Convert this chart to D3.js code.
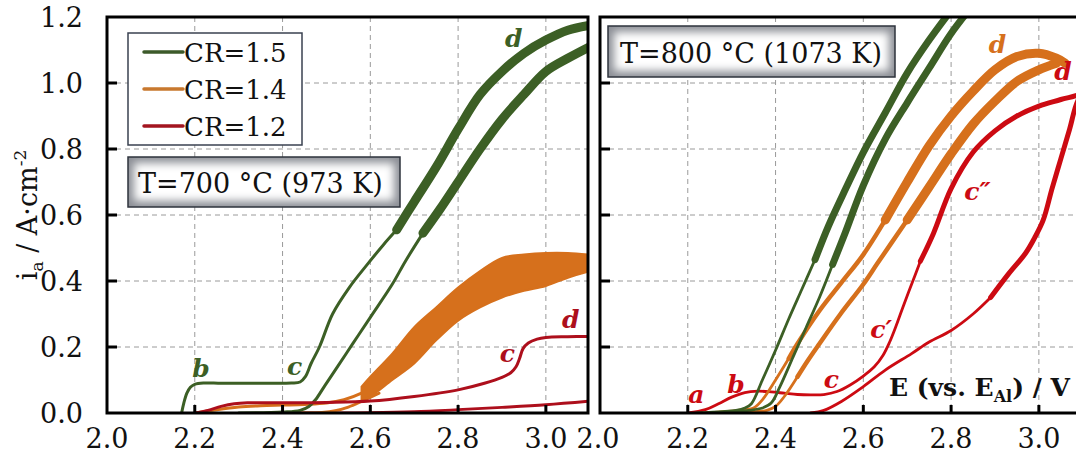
<!DOCTYPE html>
<html><head><meta charset="utf-8">
<script src="https://cdn.jsdelivr.net/npm/d3@7"></script>
<style>body{margin:0;background:#fff;} svg{display:block;}</style>
</head><body><svg id="c" width="1076" height="454"></svg>
<script>
// ================= DATA =================
const xTicks = [2.0, 2.2, 2.4, 2.6, 2.8, 3.0];
const yTicks = [0.0, 0.2, 0.4, 0.6, 0.8, 1.0, 1.2];
const legendLabels = ["CR=1.5", "CR=1.4", "CR=1.2"];
const panelTitles = ["T=700 °C (973 K)", "T=800 °C (1073 K)"];

// ---- T = 700 °C ----
const g700_fwdE  = [2.170,2.175,2.182,2.190,2.200,2.220,2.260,2.320,2.380,2.420,2.440,2.452,2.465,2.484,2.514,2.552,2.590,2.630,2.660];
const g700_fwdI  = [0.000,0.030,0.060,0.078,0.087,0.091,0.090,0.090,0.090,0.091,0.094,0.110,0.150,0.200,0.300,0.380,0.445,0.510,0.555];
const g700_fwdNE = [2.660,2.700,2.750,2.800,2.850,2.900,2.950,3.000,3.050,3.100];
const g700_fwdNI = [0.555,0.640,0.745,0.860,0.965,1.035,1.090,1.130,1.160,1.175];
const g700_revNE = [3.100,3.050,3.000,2.950,2.900,2.850,2.800,2.760,2.720];
const g700_revNI = [1.110,1.075,1.035,0.965,0.890,0.800,0.700,0.620,0.545];
const g700_revE  = [2.720,2.680,2.650,2.600,2.560,2.520,2.495,2.475,2.460,2.440,2.400,2.300];
const g700_revI  = [0.545,0.460,0.390,0.290,0.210,0.130,0.080,0.040,0.020,0.008,0.003,0.000];
const o700_fwdE  = [2.200,2.250,2.300,2.350,2.400,2.450,2.500,2.540,2.580,2.620];
const o700_fwdI  = [0.000,0.010,0.018,0.022,0.024,0.026,0.030,0.040,0.060,0.090];
const o700_revE  = [2.620,2.580,2.550,2.520,2.490,2.450,2.400];
const o700_revI  = [0.060,0.035,0.018,0.007,0.002,0.000,0.000];
const o700_bandE  = [2.580,2.600,2.650,2.700,2.750,2.800,2.850,2.900,2.950,3.000,3.050,3.100];
const o700_bandLo = [0.040,0.050,0.100,0.150,0.220,0.280,0.320,0.350,0.370,0.385,0.410,0.430];
const o700_bandHi = [0.080,0.110,0.180,0.260,0.320,0.380,0.430,0.470,0.480,0.485,0.485,0.480];
const r700_fwdE = [2.200,2.230,2.260,2.290,2.320,2.400,2.500,2.600,2.700,2.800,2.860,2.900,2.920,2.932,2.940,2.948,2.960,2.980,3.000,3.050,3.100];
const r700_fwdI = [0.000,0.008,0.020,0.028,0.031,0.031,0.032,0.036,0.050,0.070,0.090,0.108,0.122,0.140,0.165,0.195,0.212,0.224,0.229,0.231,0.232];
const r700_revE = [3.100,3.000,2.900,2.800,2.700,2.600,2.500,2.420];
const r700_revI = [0.036,0.025,0.017,0.010,0.004,0.001,0.000,0.000];

// ---- T = 800 °C ----
const g800_aE  = [2.220,2.280,2.310,2.330,2.345,2.370,2.400,2.430,2.460,2.490];
const g800_aI  = [0.000,0.004,0.008,0.015,0.028,0.100,0.190,0.285,0.375,0.465];
const g800_aNE = [2.490,2.520,2.560,2.600,2.650,2.700,2.750,2.800];
const g800_aNI = [0.465,0.565,0.680,0.790,0.910,1.030,1.130,1.220];
const g800_bNE = [2.840,2.800,2.750,2.700,2.650,2.600,2.557,2.530];
const g800_bNI = [1.220,1.150,1.045,0.940,0.830,0.690,0.540,0.450];
const g800_bE  = [2.530,2.500,2.470,2.440,2.410,2.390,2.370,2.340,2.300,2.250];
const g800_bI  = [0.450,0.350,0.260,0.170,0.080,0.030,0.015,0.008,0.004,0.000];
const o800_aE  = [2.240,2.300,2.330,2.350,2.370,2.400,2.430];
const o800_aI  = [0.000,0.006,0.010,0.015,0.040,0.100,0.165];
const o800_aME = [2.430,2.450,2.500,2.550,2.600,2.650];
const o800_aMI = [0.165,0.210,0.310,0.395,0.480,0.585];
const o800_aNE = [2.650,2.700,2.750,2.800,2.850,2.900,2.950,3.000,3.040,3.060];
const o800_aNI = [0.585,0.700,0.810,0.900,0.975,1.040,1.080,1.090,1.075,1.060];
const o800_bNE = [3.040,3.000,2.950,2.900,2.850,2.800,2.750,2.700];
const o800_bNI = [1.060,1.040,1.005,0.945,0.875,0.785,0.685,0.585];
const o800_bME = [2.700,2.633,2.600,2.548,2.500,2.474,2.450];
const o800_bMI = [0.585,0.455,0.390,0.300,0.210,0.160,0.110];
const o800_bE  = [2.450,2.420,2.400,2.380,2.350,2.300];
const o800_bI  = [0.110,0.050,0.020,0.008,0.004,0.000];
const r800_fwdE  = [2.200,2.240,2.270,2.300,2.330,2.360,2.390,2.420,2.450,2.480,2.510,2.540,2.570,2.600,2.625,2.645,2.660,2.675,2.690,2.710,2.730];
const r800_fwdI  = [0.000,0.010,0.028,0.048,0.062,0.066,0.064,0.060,0.056,0.055,0.056,0.065,0.085,0.112,0.140,0.175,0.215,0.265,0.320,0.390,0.460];
const r800_fwdNE = [2.730,2.760,2.800,2.850,2.900,2.950,3.000,3.050,3.100,3.120];
const r800_fwdNI = [0.460,0.545,0.680,0.790,0.855,0.900,0.930,0.950,0.970,1.000];
const r800_revNE = [3.120,3.090,3.070,3.050,3.030,3.010,2.990,2.970,2.930,2.890];
const r800_revNI = [1.000,0.950,0.860,0.770,0.680,0.585,0.530,0.485,0.420,0.350];
const r800_revE  = [2.890,2.850,2.800,2.750,2.710,2.650,2.600,2.550,2.510,2.480];
const r800_revI  = [0.350,0.300,0.250,0.215,0.180,0.130,0.080,0.035,0.008,0.000];

const ann700Text = ["b","c","d","c","d"];
const ann700E    = [2.194,2.410,2.907,2.895,3.037];
const ann700I    = [0.109,0.115,1.110,0.155,0.258];
const ann700Ser  = [0,0,0,2,2];
const ann800Text = ["a","b","c","c′","c″","d","d"];
const ann800E    = [2.201,2.290,2.510,2.616,2.830,2.886,3.035];
const ann800I    = [0.030,0.060,0.076,0.227,0.645,1.090,1.010];
const ann800Ser  = [2,2,2,2,2,1,2];

// ================= DRAW =================
const svg = d3.select("#c");
const defs = svg.append("defs");
const SERIF = "'DejaVu Serif', 'Liberation Serif', serif";
const green = "#3c5f25", orange = "#d6701c", red700 = "#ad0f1c", red800 = "#cc0a12";
const legendColors = ["#3c5a2a", "#c8782e", "#a3151f"];

const yTop = 17, yBot = 413;
const y = d3.scaleLinear().domain([0, 1.2]).range([yBot, yTop]);
const panels = [
  {x: d3.scaleLinear().domain([2.0, 3.096]).range([107, 588]), id: "p700", red: red700},
  {x: d3.scaleLinear().domain([2.0, 3.096]).range([600, 1081]), id: "p800", red: red800}
];

const gridG = svg.append("g");
panels.forEach(p => {
  const [x0, x1] = p.x.range();
  defs.append("clipPath").attr("id", p.id).append("rect")
    .attr("x", x0).attr("y", yTop).attr("width", x1 - x0).attr("height", yBot - yTop);
  xTicks.filter(t => t > 2.0).forEach(t => {
    gridG.append("line").attr("x1", p.x(t)).attr("x2", p.x(t)).attr("y1", yTop).attr("y2", yBot)
      .attr("stroke", "#9a9a9a").attr("stroke-width", 1).attr("stroke-dasharray", "5,4");
  });
  yTicks.filter(t => t > 0 && t < 1.2).forEach(t => {
    gridG.append("line").attr("x1", x0).attr("x2", x1).attr("y1", y(t)).attr("y2", y(t))
      .attr("stroke", "#9a9a9a").attr("stroke-width", 1).attr("stroke-dasharray", "5,4");
  });
});

function zip(E, I) { return E.map((e, k) => [e, I[k]]); }
function drawLine(p, E, I, color, w) {
  const line = d3.line().x(d => p.x(d[0])).y(d => y(d[1])).curve(d3.curveCatmullRom.alpha(0.5));
  p.g.append("path").attr("d", line(zip(E, I))).attr("fill", "none")
    .attr("stroke", color).attr("stroke-width", w).attr("stroke-linejoin", "round").attr("stroke-linecap", "round");
}
panels.forEach(p => { p.g = svg.append("g").attr("clip-path", `url(#${p.id})`); });

const P1 = panels[0];
drawLine(P1, r700_revE, r700_revI, red700, 2.8);
drawLine(P1, o700_revE, o700_revI, orange, 2.8);
drawLine(P1, o700_fwdE, o700_fwdI, orange, 3);
const band = d3.area().x((d, k) => P1.x(o700_bandE[k])).y0((d, k) => y(o700_bandLo[k])).y1((d, k) => y(o700_bandHi[k]))
  .curve(d3.curveCatmullRom.alpha(0.5));
P1.g.append("path").attr("d", band(o700_bandE)).attr("fill", orange).attr("stroke", orange).attr("stroke-width", 2);
drawLine(P1, g700_revE, g700_revI, green, 3);
drawLine(P1, g700_revNE, g700_revNI, green, 9);
drawLine(P1, g700_fwdE, g700_fwdI, green, 3);
drawLine(P1, g700_fwdNE, g700_fwdNI, green, 9);
drawLine(P1, r700_fwdE, r700_fwdI, red700, 3);

const P2 = panels[1];
drawLine(P2, r800_revE, r800_revI, red800, 2.8);
drawLine(P2, r800_revNE, r800_revNI, red800, 5);
drawLine(P2, r800_fwdE, r800_fwdI, red800, 2.8);
drawLine(P2, r800_fwdNE, r800_fwdNI, red800, 5);
drawLine(P2, o800_bE, o800_bI, orange, 2.8);
drawLine(P2, o800_bME, o800_bMI, orange, 4.5);
drawLine(P2, o800_bNE, o800_bNI, orange, 9);
drawLine(P2, o800_aE, o800_aI, orange, 2.8);
drawLine(P2, o800_aME, o800_aMI, orange, 4.5);
drawLine(P2, o800_aNE, o800_aNI, orange, 9);
drawLine(P2, g800_bE, g800_bI, green, 2.8);
drawLine(P2, g800_bNE, g800_bNI, green, 7);
drawLine(P2, g800_aE, g800_aI, green, 2.8);
drawLine(P2, g800_aNE, g800_aNI, green, 7);

panels.forEach((p, pi) => {
  const [x0, x1] = p.x.range();
  svg.append("rect").attr("x", x0).attr("y", yTop).attr("width", x1 - x0).attr("height", yBot - yTop)
    .attr("fill", "none").attr("stroke", "#000").attr("stroke-width", 3);
  xTicks.filter(t => t > 2.0).forEach(t => {
    svg.append("line").attr("x1", p.x(t)).attr("x2", p.x(t)).attr("y1", yBot).attr("y2", yBot - 8)
      .attr("stroke", "#000").attr("stroke-width", 3);
  });
  yTicks.filter(t => t > 0 && t < 1.2).forEach(t => {
    svg.append("line").attr("x1", x0).attr("x2", x0 + 10).attr("y1", y(t)).attr("y2", y(t))
      .attr("stroke", "#000").attr("stroke-width", 3);
  });
  xTicks.forEach(t => {
    svg.append("text").attr("x", p.x(t) - (pi === 1 && t === 2.0 ? 2 : 0)).attr("y", 448).attr("text-anchor", "middle")
      .attr("font-family", SERIF).attr("font-size", 27).attr("fill", "#111").text(t.toFixed(1));
  });
});
yTicks.forEach(t => {
  svg.append("text").attr("x", 83).attr("y", y(t)).attr("dy", "0.36em").attr("text-anchor", "end")
    .attr("font-family", SERIF).attr("font-size", 27).attr("fill", "#111").text(t.toFixed(1));
});

function drawAnn(p, T, E, I, S) {
  const cols = [green, orange, p.red];
  T.forEach((t, k) => {
    svg.append("text").attr("x", p.x(E[k])).attr("y", y(I[k]))
      .attr("font-family", SERIF).attr("font-style", "italic").attr("font-weight", "bold")
      .attr("font-size", 25).attr("fill", cols[S[k]]).text(t);
  });
}
drawAnn(P1, ann700Text, ann700E, ann700I, ann700Ser);
drawAnn(P2, ann800Text, ann800E, ann800I, ann800Ser);

const yl = svg.append("text").attr("transform", "translate(37,215) rotate(-90)").attr("text-anchor", "middle")
  .attr("font-family", SERIF).attr("font-size", 27).attr("fill", "#111");
yl.append("tspan").text("i");
yl.append("tspan").attr("font-size", 17).attr("dy", 6).text("a");
yl.append("tspan").attr("dy", -6).text(" / A·cm");
yl.append("tspan").attr("font-size", 17).attr("dy", -11).text("-2");

const xl = svg.append("text").attr("x", 889).attr("y", 396)
  .attr("font-family", SERIF).attr("font-weight", "bold").attr("font-size", 25).attr("fill", "#111");
xl.append("tspan").text("E (vs. E");
xl.append("tspan").attr("font-size", 16).attr("dy", 6).text("Al");
xl.append("tspan").attr("dy", -6).text(") / V");

svg.append("rect").attr("x", 128).attr("y", 33).attr("width", 174).attr("height", 112)
  .attr("fill", "#fff").attr("stroke", "#3a4150").attr("stroke-width", 1.5);
legendLabels.forEach((lab, k) => {
  const yy = 52 + k * 37;
  svg.append("line").attr("x1", 144).attr("x2", 183).attr("y1", yy).attr("y2", yy)
    .attr("stroke", legendColors[k]).attr("stroke-width", 3.5).attr("stroke-linecap", "round");
  svg.append("text").attr("x", 184).attr("y", yy + 10).attr("font-family", SERIF).attr("font-size", 26)
    .attr("fill", "#111").text(lab);
});

const blur = defs.append("filter").attr("id", "blur").attr("x", "-30%").attr("y", "-50%").attr("width", "160%").attr("height", "200%");
blur.append("feGaussianBlur").attr("stdDeviation", 4);
function shadedBox(x, y0, w, h, txt, tx, ty, id) {
  defs.append("clipPath").attr("id", id).append("rect").attr("x", x).attr("y", y0).attr("width", w).attr("height", h);
  const g = svg.append("g").attr("clip-path", `url(#${id})`);
  g.append("rect").attr("x", x).attr("y", y0).attr("width", w).attr("height", h).attr("fill", "#8c8f96");
  g.append("rect").attr("x", x + 6).attr("y", y0 + 6).attr("width", w - 12).attr("height", h - 12)
    .attr("fill", "#fff").attr("filter", "url(#blur)");
  svg.append("rect").attr("x", x).attr("y", y0).attr("width", w).attr("height", h)
    .attr("fill", "none").attr("stroke", "#2e333d").attr("stroke-width", 1.5);
  svg.append("text").attr("x", tx).attr("y", ty).attr("font-family", SERIF).attr("font-size", 27)
    .attr("fill", "#111").text(txt);
}
shadedBox(128, 157, 272, 50, panelTitles[0], 138, 193, "b1");
shadedBox(608, 26, 287, 51, panelTitles[1], 620, 63, "b2");
</script></body></html>
